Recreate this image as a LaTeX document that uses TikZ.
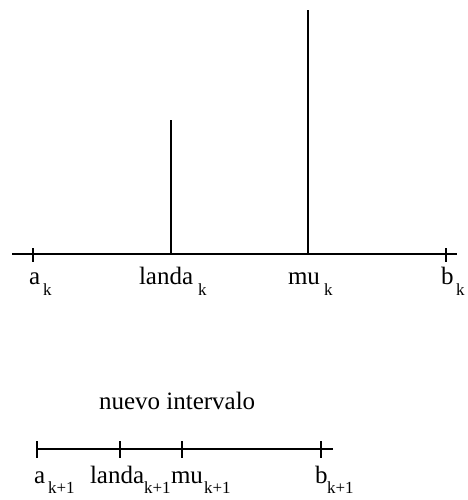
\documentclass[tikz,border=0pt]{standalone}
\usepackage{fontspec}
\setmainfont{Liberation Serif}
\begin{document}
\begin{tikzpicture}[x=1pt,y=-1pt,line width=2pt,
  lab/.style={anchor=base west,inner sep=0pt,font=\fontsize{25}{25}\selectfont},
  sub/.style={anchor=base west,inner sep=0pt,font=\fontsize{17}{17}\selectfont}]
\useasboundingbox (0,0) rectangle (467,500);
% top axis
\coordinate (TL) at (12,254);
\coordinate (TR) at (457,254);
\draw (TL) -- (TR);
\coordinate (ak1) at (33,248); \coordinate (ak2) at (33,262);
\coordinate (bk1) at (446,248); \coordinate (bk2) at (446,262);
\draw (ak1) -- (ak2);
\draw (bk1) -- (bk2);
\coordinate (lk0) at (171,254); \coordinate (lk1) at (171,120);
\coordinate (mk0) at (308,254); \coordinate (mk1) at (308,10);
\draw (lk0) -- (lk1);
\draw (mk0) -- (mk1);
\node[lab] (ta) at (28,284) {a};
\node[sub] (tas) at (42,295) {k};
\node[lab] (tl) at (138,284) {landa};
\node[sub] (tls) at (197,295) {k};
\node[lab] (tm) at (287,284) {mu};
\node[sub] (tms) at (323,295) {k};
\node[lab] (tb) at (440,284) {b};
\node[sub] (tbs) at (455,295) {k};
% new interval
\node[lab] (ni) at (98,409) {nuevo intervalo};
\coordinate (BL) at (37,449);
\coordinate (BR) at (333,449);
\draw (BL) -- (BR);
\foreach \x/\n in {37/a,120/l,182/m,321/b}{
  \coordinate (b\n1) at (\x,441); \coordinate (b\n2) at (\x,458);
  \draw (b\n1) -- (b\n2);
}
\node[lab] (ba) at (33,483) {a};
\node[sub] (bas) at (47,493) {k+1};
\node[lab] (bl) at (89,483) {landa};
\node[sub] (bls) at (143,493) {k+1};
\node[lab] (bm) at (170,483) {mu};
\node[sub] (bms) at (203,493) {k+1};
\node[lab] (bb) at (314,483) {b};
\node[sub] (bbs) at (326,493) {k+1};
\end{tikzpicture}
\end{document}
